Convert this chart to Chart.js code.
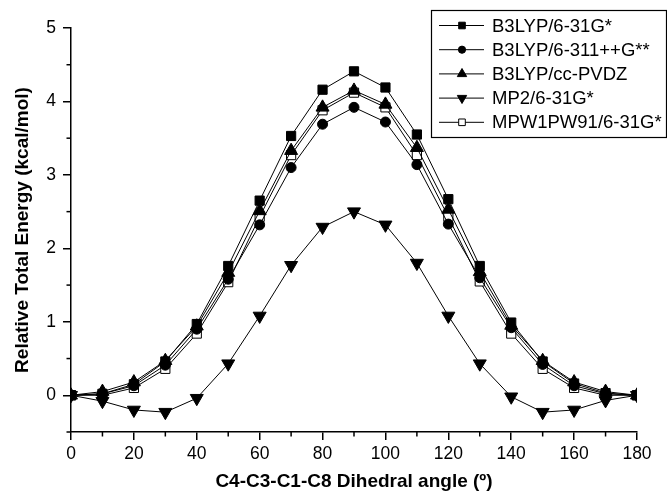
<!DOCTYPE html>
<html><head><meta charset="utf-8">
<script src="https://cdn.jsdelivr.net/npm/chart.js@4"></script>
<style>html,body{margin:0;padding:0;background:#fff}#wrap{width:667px;height:496px}</style>
</head><body><div id="wrap"><canvas id="c" width="667" height="496"></canvas></div>
<script>
const angles = [0,10,20,30,40,50,60,70,80,90,100,110,120,130,140,150,160,170,180];
const b3lyp631 = [0,0.02,0.15,0.46,0.97,1.76,2.65,3.53,4.16,4.41,4.19,3.55,2.67,1.76,0.99,0.46,0.16,0.03,0];
const b3lyp6311 = [0,0.02,0.13,0.41,0.90,1.58,2.32,3.10,3.69,3.92,3.72,3.14,2.33,1.60,0.92,0.42,0.13,0.02,0];
const b3lypPVDZ = [0,0.05,0.18,0.47,0.94,1.67,2.51,3.33,3.92,4.15,3.96,3.37,2.53,1.68,0.95,0.47,0.18,0.05,0];
const mp2 = [0,-0.08,-0.20,-0.23,-0.04,0.43,1.08,1.77,2.29,2.50,2.32,1.80,1.08,0.43,-0.02,-0.23,-0.20,-0.07,0];
const mpw1pw91 = [0,0.0,0.10,0.36,0.84,1.54,2.43,3.27,3.88,4.12,3.92,3.27,2.43,1.55,0.84,0.36,0.10,0.0,0];
const seriesNames = ['B3LYP/6-31G*','B3LYP/6-311++G**','B3LYP/cc-PVDZ','MP2/6-31G*','MPW1PW91/6-31G*'];
const seriesData = [b3lyp631,b3lyp6311,b3lypPVDZ,mp2,mpw1pw91];
const styles = [
  {pointStyle:'rect', radius:6.5, rotation:0, fill:'#000'},
  {pointStyle:'circle', radius:5, rotation:0, fill:'#000'},
  {pointStyle:'triangle', radius:7.5, rotation:0, fill:'#000'},
  {pointStyle:'triangle', radius:7.5, rotation:180, fill:'#000'},
  {pointStyle:'rect', radius:6.5, rotation:0, fill:'#fff'}
];
const FONT = '"Liberation Sans", Arial, sans-serif';
const datasets = seriesData.map((d,i)=>({
  label: seriesNames[i],
  data: d.map((v,j)=>({x:angles[j], y:v})),
  borderColor:'#000', borderWidth:1,
  pointStyle: styles[i].pointStyle, pointRadius: styles[i].radius, pointRotation: styles[i].rotation,
  pointBackgroundColor: styles[i].fill, pointBorderColor:'#000', pointBorderWidth:1,
  tension:0, fill:false
}));
const legendPlugin = {
  id:'customLegend',
  afterDraw(chart){
    const ctx = chart.ctx;
    const xs = chart.scales.x, ys = chart.scales.y;
    ctx.save();
    ctx.strokeStyle='#000'; ctx.lineWidth=1.5;
    xs.ticks.forEach(t=>{ if (t.value%20!==0){ const px=xs.getPixelForValue(t.value); ctx.beginPath(); ctx.moveTo(px,xs.top); ctx.lineTo(px,xs.top+4.5); ctx.stroke(); }});
    ys.ticks.forEach(t=>{ if (!Number.isInteger(t.value)){ const py=ys.getPixelForValue(t.value); ctx.beginPath(); ctx.moveTo(ys.right,py); ctx.lineTo(ys.right-4.5,py); ctx.stroke(); }});
    const x0=431, y0=10, w=235, h=127;
    ctx.fillStyle='#fff'; ctx.fillRect(x0,y0,w,h);
    ctx.strokeStyle='#000'; ctx.lineWidth=1.2; ctx.strokeRect(x0+0.5,y0+0.5,w,h);
    ctx.font = '18.5px '+FONT; ctx.textBaseline='middle'; ctx.fillStyle='#000';
    seriesNames.forEach((n,i)=>{
      const y = y0+15.5+i*24.2;
      ctx.beginPath(); ctx.lineWidth=1; ctx.strokeStyle='#000'; ctx.moveTo(x0+8,y); ctx.lineTo(x0+53,y); ctx.stroke();
      const s = styles[i];
      ctx.fillStyle = s.fill;
      Chart.helpers.drawPoint(ctx,{pointStyle:s.pointStyle, rotation:s.rotation, radius:s.radius*0.72, borderWidth:1}, x0+31, y);
      ctx.fillStyle='#000';
      ctx.fillText(n, x0+61, y+1);
    });
    ctx.restore();
  }
};
new Chart(document.getElementById('c'),{
  type:'line',
  data:{datasets},
  options:{
    responsive:false, animation:false, devicePixelRatio:1,
    layout:{padding:{top:28,right:30,left:0,bottom:0}},
    plugins:{legend:{display:false}, tooltip:{enabled:false}},
    scales:{
      x:{type:'linear', min:0, max:180,
        ticks:{stepSize:10, autoSkip:false, maxRotation:0, color:'#000', font:{family:FONT,size:17.5}, padding:4,
          callback:(v)=> (v%20===0? String(v):'')},
        grid:{drawOnChartArea:false, drawTicks:true, tickLength:8, lineWidth:1.5,
          tickColor:(c)=> (c.tick && c.tick.value%20===0 ? '#000' : 'rgba(0,0,0,0)')},
        border:{color:'#000', width:1.5},
        title:{display:true, text:'C4-C3-C1-C8 Dihedral angle (º)', color:'#000', font:{family:FONT,size:19,weight:'bold'}, padding:{top:4,bottom:3}},
        afterFit(s){ s.height = 64; }
      },
      y:{type:'linear', min:-0.5, max:5,
        ticks:{stepSize:0.5, autoSkip:false, color:'#000', font:{family:FONT,size:17.5}, padding:7,
          callback:(v)=> (Number.isInteger(v) ? String(v) : '')},
        grid:{drawOnChartArea:false, drawTicks:true, tickLength:8, lineWidth:1.5,
          tickColor:(c)=> (c.tick && Number.isInteger(c.tick.value) ? '#000' : 'rgba(0,0,0,0)')},
        border:{color:'#000', width:1.5},
        title:{display:true, text:'Relative Total Energy (kcal/mol)', color:'#000', font:{family:FONT,size:19,weight:'bold'}, padding:{top:11,bottom:8}},
        afterFit(s){ s.width = 71; }
      }
    }
  },
  plugins:[legendPlugin]
});
</script></body></html>
